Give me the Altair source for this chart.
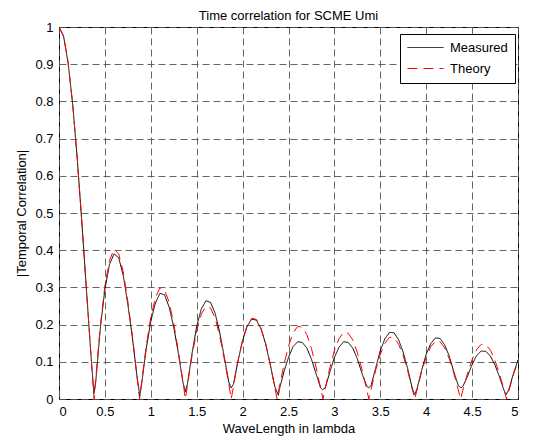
import altair as alt
import pandas as pd

# ---- data ----
meas_x = [0.00, 0.05, 0.10, 0.15, 0.20, 0.25, 0.30, 0.35, 0.38, 0.40,
          0.45, 0.50, 0.55, 0.60, 0.65, 0.70, 0.75, 0.80, 0.85, 0.88,
          0.90, 0.95, 1.00, 1.05, 1.10, 1.15, 1.20, 1.25, 1.30, 1.35,
          1.377, 1.40, 1.45, 1.50, 1.55, 1.60, 1.65, 1.70, 1.75, 1.80,
          1.85, 1.876, 1.90, 1.95, 2.00, 2.05, 2.10, 2.15, 2.20, 2.25,
          2.30, 2.35, 2.39, 2.40, 2.45, 2.50, 2.55, 2.60, 2.65, 2.70,
          2.75, 2.80, 2.85, 2.87, 2.90, 2.95, 3.00, 3.05, 3.10, 3.15,
          3.20, 3.25, 3.30, 3.35, 3.37, 3.40, 3.45, 3.50, 3.55, 3.60,
          3.65, 3.70, 3.75, 3.80, 3.85, 3.875, 3.90, 3.95, 4.00, 4.05,
          4.10, 4.15, 4.20, 4.25, 4.30, 4.35, 4.38, 4.40, 4.45, 4.50,
          4.55, 4.60, 4.65, 4.70, 4.75, 4.80, 4.85, 4.87, 4.90, 4.95, 5.00]
meas_y = [1.000, 0.975, 0.902, 0.790, 0.642, 0.470, 0.290, 0.112, 0.015, 0.045,
          0.190, 0.295, 0.362, 0.390, 0.380, 0.332, 0.254, 0.164, 0.060, 0.008,
          0.040, 0.135, 0.209, 0.258, 0.284, 0.280, 0.247, 0.193, 0.123, 0.045,
          0.020, 0.042, 0.124, 0.195, 0.242, 0.264, 0.260, 0.231, 0.180, 0.114,
          0.045, 0.030, 0.040, 0.102, 0.157, 0.196, 0.215, 0.212, 0.189, 0.149,
          0.094, 0.034, 0.010, 0.025, 0.073, 0.112, 0.141, 0.154, 0.152, 0.137,
          0.107, 0.068, 0.030, 0.025, 0.030, 0.072, 0.112, 0.139, 0.154, 0.152,
          0.137, 0.108, 0.069, 0.036, 0.030, 0.036, 0.084, 0.130, 0.162, 0.179,
          0.178, 0.159, 0.125, 0.080, 0.027, 0.012, 0.027, 0.077, 0.120, 0.149,
          0.164, 0.163, 0.146, 0.116, 0.074, 0.036, 0.030, 0.034, 0.061, 0.093,
          0.117, 0.129, 0.128, 0.115, 0.091, 0.058, 0.022, 0.012, 0.025, 0.068, 0.105]

theo_x = [0.00, 0.05, 0.10, 0.15, 0.20, 0.25, 0.30, 0.35, 0.383, 0.40,
          0.45, 0.50, 0.55, 0.60, 0.65, 0.70, 0.75, 0.80, 0.85, 0.878,
          0.90, 0.95, 1.00, 1.05, 1.10, 1.15, 1.20, 1.25, 1.30, 1.35,
          1.377, 1.40, 1.45, 1.50, 1.55, 1.60, 1.65, 1.70, 1.75, 1.80,
          1.85, 1.876, 1.90, 1.95, 2.00, 2.05, 2.10, 2.15, 2.20, 2.25,
          2.30, 2.35, 2.376, 2.40, 2.45, 2.50, 2.55, 2.60, 2.65, 2.70,
          2.75, 2.80, 2.85, 2.876, 2.90, 2.95, 3.00, 3.05, 3.10, 3.15,
          3.20, 3.25, 3.30, 3.35, 3.375, 3.40, 3.45, 3.50, 3.55, 3.60,
          3.65, 3.70, 3.75, 3.80, 3.85, 3.875, 3.90, 3.95, 4.00, 4.05,
          4.10, 4.15, 4.20, 4.25, 4.30, 4.35, 4.375, 4.40, 4.45, 4.50,
          4.55, 4.60, 4.65, 4.70, 4.75, 4.80, 4.85, 4.875, 4.90, 4.95, 5.00]
theo_y = [1.000, 0.976, 0.904, 0.790, 0.643, 0.472, 0.291, 0.111, 0.000, 0.055,
          0.196, 0.304, 0.373, 0.402, 0.390, 0.342, 0.262, 0.169, 0.060, 0.000,
          0.046, 0.142, 0.220, 0.272, 0.299, 0.293, 0.260, 0.203, 0.129, 0.047,
          0.000, 0.038, 0.117, 0.184, 0.228, 0.249, 0.245, 0.218, 0.170, 0.108,
          0.040, 0.000, 0.033, 0.103, 0.159, 0.198, 0.217, 0.214, 0.191, 0.150,
          0.095, 0.032, 0.000, 0.032, 0.092, 0.142, 0.178, 0.195, 0.193, 0.173,
          0.136, 0.086, 0.029, 0.000, 0.029, 0.084, 0.130, 0.162, 0.179, 0.177,
          0.159, 0.125, 0.080, 0.027, 0.000, 0.027, 0.078, 0.120, 0.150, 0.166,
          0.165, 0.147, 0.116, 0.074, 0.025, 0.000, 0.025, 0.073, 0.113, 0.141,
          0.155, 0.154, 0.138, 0.109, 0.070, 0.024, 0.000, 0.024, 0.069, 0.106,
          0.133, 0.147, 0.146, 0.131, 0.103, 0.066, 0.023, 0.000, 0.022, 0.065, 0.101]

series_names = ["Measured", "Theory"]
series_colors = ["#000000", "#ff0000"]
x_ticks = [0, 0.5, 1, 1.5, 2, 2.5, 3, 3.5, 4, 4.5, 5]
y_ticks = [0, 0.1, 0.2, 0.3, 0.4, 0.5, 0.6, 0.7, 0.8, 0.9, 1]

df_m = pd.DataFrame({"x": meas_x, "y": meas_y, "series": series_names[0]})
df_t = pd.DataFrame({"x": theo_x, "y": theo_y, "series": series_names[1]})

FONT = "Liberation Sans"

x_enc = alt.X("x:Q", scale=alt.Scale(domain=[0, 5], nice=False, zero=False),
              axis=alt.Axis(values=x_ticks, format="~g", title="WaveLength in lambda"))
y_enc = alt.Y("y:Q", scale=alt.Scale(domain=[0, 1], nice=False),
              axis=alt.Axis(values=y_ticks, format="~g", title="|Temporal Correlation|"))
legend = alt.Legend(orient="none", legendX=341, legendY=7, title=None,
                    symbolType="M-1,0H5", symbolSize=144, symbolStrokeWidth=1,
                    labelFont=FONT, labelFontSize=13, labelColor="black",
                    labelOffset=30, strokeColor="black", fillColor="white",
                    padding=7, rowPadding=7, cornerRadius=0)
color_enc = alt.Color("series:N", scale=alt.Scale(domain=series_names, range=series_colors),
                      legend=legend)
dash_enc = alt.StrokeDash("series:N",
                          scale=alt.Scale(domain=series_names, range=[[1, 0], [10, 6]]),
                          legend=legend)

measured = alt.Chart(df_m).mark_line(strokeWidth=1, clip=True).encode(
    x=x_enc, y=y_enc, color=color_enc, strokeDash=dash_enc)
theory = alt.Chart(df_t).mark_line(strokeWidth=1, clip=True).encode(
    x=x_enc, y=y_enc, color=color_enc, strokeDash=dash_enc)

chart = alt.layer(measured, theory).properties(
    width=459, height=372,
    title=alt.TitleParams("Time correlation for SCME Umi", font=FONT, fontSize=13,
                          fontWeight="normal", color="black", offset=4, dy=6),
    autosize=alt.AutoSizeParams(type="none"),
    padding={"left": 51, "top": 19, "right": 10, "bottom": 40},
).configure_view(
    stroke="black", strokeWidth=1
).configure_axis(
    labelFont=FONT, labelFontSize=13, labelColor="black",
    titleFont=FONT, titleFontSize=13, titleFontWeight="normal", titleColor="black",
    ticks=False, domain=False, labelPadding=6,
    grid=True, gridColor="#555555", gridDash=[7, 4], gridWidth=1, gridOpacity=0.9,
).configure_axisX(titlePadding=4).configure_axisY(titlePadding=6)

chart.save("out.html", embed_options={"renderer": "svg", "actions": False})
